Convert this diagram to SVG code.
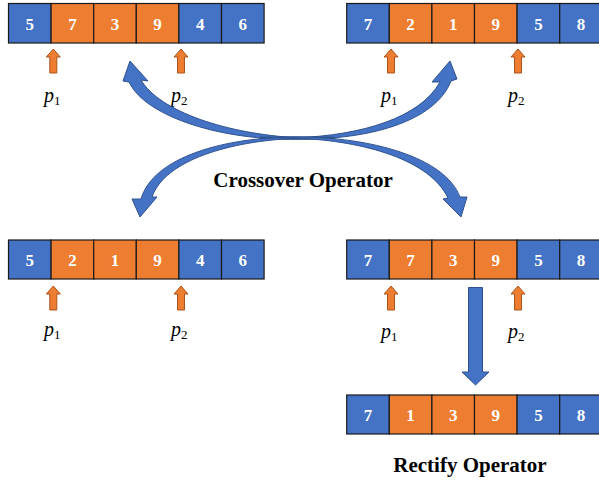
<svg xmlns="http://www.w3.org/2000/svg" width="599" height="480" viewBox="0 0 599 480">
<style>
.b{fill:#4472C4;stroke:#1a1a1a;stroke-width:1.2}
.o{fill:#ED7D31;stroke:#1a1a1a;stroke-width:1.2}
.n{font-family:"Liberation Serif",serif;font-weight:bold;font-size:17px;fill:#fff;text-anchor:middle}
.pa{fill:#ED7D31;stroke:#A9541C;stroke-width:1}
.p{font-family:"Liberation Serif",serif;font-style:italic;font-size:20px;fill:#000}
.s{font-size:13px;font-style:normal}
.big{fill:#4472C4;stroke:#2F528F;stroke-width:1}
.t{font-family:"Liberation Serif",serif;font-weight:bold;font-size:21px;fill:#000;text-anchor:middle}
</style>
<defs>
<path id="up" d="M0,0 L7,8 L3.5,8 L3.5,24 L-3.5,24 L-3.5,8 L-7,8 Z"/>
</defs>
<g id="parent1">
<rect class="b" x="8.5" y="3.5" width="42.6" height="39.5"/>
<rect class="o" x="51.1" y="3.5" width="42.6" height="39.5"/>
<rect class="o" x="93.7" y="3.5" width="42.6" height="39.5"/>
<rect class="o" x="136.3" y="3.5" width="42.6" height="39.5"/>
<rect class="b" x="178.9" y="3.5" width="42.6" height="39.5"/>
<rect class="b" x="221.5" y="3.5" width="42.6" height="39.5"/>
<text class="n" x="29.8" y="29.5">5</text>
<text class="n" x="72.4" y="29.5">7</text>
<text class="n" x="115" y="29.5">3</text>
<text class="n" x="157.6" y="29.5">9</text>
<text class="n" x="200.2" y="29.5">4</text>
<text class="n" x="242.8" y="29.5">6</text>
<use href="#up" class="pa" x="53.3" y="49"/>
<use href="#up" class="pa" x="181" y="49"/>
<text class="p" x="44" y="102">p<tspan class="s" dy="3">1</tspan></text>
<text class="p" x="171" y="102">p<tspan class="s" dy="3">2</tspan></text>
</g>
<g id="parent2">
<rect class="b" x="346.7" y="3.5" width="42.6" height="39.5"/>
<rect class="o" x="389.3" y="3.5" width="42.6" height="39.5"/>
<rect class="o" x="431.9" y="3.5" width="42.6" height="39.5"/>
<rect class="o" x="474.5" y="3.5" width="42.6" height="39.5"/>
<rect class="b" x="517.1" y="3.5" width="42.6" height="39.5"/>
<rect class="b" x="559.7" y="3.5" width="42.6" height="39.5"/>
<text class="n" x="368" y="29.5">7</text>
<text class="n" x="410.6" y="29.5">2</text>
<text class="n" x="453.2" y="29.5">1</text>
<text class="n" x="495.8" y="29.5">9</text>
<text class="n" x="538.4" y="29.5">5</text>
<text class="n" x="581" y="29.5">8</text>
<use href="#up" class="pa" x="391" y="49"/>
<use href="#up" class="pa" x="518" y="49"/>
<text class="p" x="381" y="102">p<tspan class="s" dy="3">1</tspan></text>
<text class="p" x="508" y="102">p<tspan class="s" dy="3">2</tspan></text>
</g>
<g id="child1">
<rect class="b" x="8.5" y="240" width="42.6" height="39"/>
<rect class="o" x="51.1" y="240" width="42.6" height="39"/>
<rect class="o" x="93.7" y="240" width="42.6" height="39"/>
<rect class="o" x="136.3" y="240" width="42.6" height="39"/>
<rect class="b" x="178.9" y="240" width="42.6" height="39"/>
<rect class="b" x="221.5" y="240" width="42.6" height="39"/>
<text class="n" x="29.8" y="265.5">5</text>
<text class="n" x="72.4" y="265.5">2</text>
<text class="n" x="115" y="265.5">1</text>
<text class="n" x="157.6" y="265.5">9</text>
<text class="n" x="200.2" y="265.5">4</text>
<text class="n" x="242.8" y="265.5">6</text>
<use href="#up" class="pa" x="53.3" y="286"/>
<use href="#up" class="pa" x="181" y="286"/>
<text class="p" x="44" y="336">p<tspan class="s" dy="3">1</tspan></text>
<text class="p" x="171" y="336">p<tspan class="s" dy="3">2</tspan></text>
</g>
<g id="child2">
<rect class="b" x="346.7" y="240" width="42.6" height="39"/>
<rect class="o" x="389.3" y="240" width="42.6" height="39"/>
<rect class="o" x="431.9" y="240" width="42.6" height="39"/>
<rect class="o" x="474.5" y="240" width="42.6" height="39"/>
<rect class="b" x="517.1" y="240" width="42.6" height="39"/>
<rect class="b" x="559.7" y="240" width="42.6" height="39"/>
<text class="n" x="368" y="265.5">7</text>
<text class="n" x="410.6" y="265.5">7</text>
<text class="n" x="453.2" y="265.5">3</text>
<text class="n" x="495.8" y="265.5">9</text>
<text class="n" x="538.4" y="265.5">5</text>
<text class="n" x="581" y="265.5">8</text>
<use href="#up" class="pa" x="391" y="286"/>
<use href="#up" class="pa" x="518" y="286"/>
<text class="p" x="381" y="338">p<tspan class="s" dy="3">1</tspan></text>
<text class="p" x="508" y="338">p<tspan class="s" dy="3">2</tspan></text>
</g>
<g id="rectified">
<rect class="b" x="346.7" y="395" width="42.6" height="39"/>
<rect class="o" x="389.3" y="395" width="42.6" height="39"/>
<rect class="o" x="431.9" y="395" width="42.6" height="39"/>
<rect class="o" x="474.5" y="395" width="42.6" height="39"/>
<rect class="b" x="517.1" y="395" width="42.6" height="39"/>
<rect class="b" x="559.7" y="395" width="42.6" height="39"/>
<text class="n" x="368" y="420.5">7</text>
<text class="n" x="410.6" y="420.5">1</text>
<text class="n" x="453.2" y="420.5">3</text>
<text class="n" x="495.8" y="420.5">9</text>
<text class="n" x="538.4" y="420.5">5</text>
<text class="n" x="581" y="420.5">8</text>
</g>
<g id="connectors">
<path class="big" d="M335,138.4 C320,138.1 305,137.9 297,137.7 C228,134 160,112 141,80 L148,81 L130,61 L123,81 L129,82 C146,118 226,141 297,139 C305,139 320,138.8 335,138.6 Z"/>
<path class="big" d="M260,138.6 C275,138.3 290,138.1 297,137.8 C362,135 420,118 440,82 L432,82 L450,61 L457,79 L451,81 C435,122 368,140 297,139.2 C290,139.2 275,139 260,138.8 Z"/>
<path class="big" d="M335,137.4 C320,137.6 305,137.9 297,138.2 C230,141 165,160 152,197 L157,197 L140,217 L132,199 L141,199 C153,157 225,137 297,136.9 C305,136.9 320,137 335,137.2 Z"/>
<path class="big" d="M260,137.4 C275,137.6 290,137.9 297,138.2 C365,141 430,160 448,198 L443,199 L461,217 L467,197 L460,197 C445,157 370,137 297,136.9 C290,136.9 275,137 260,137.2 Z"/>
<path class="big" d="M468.5,287.5 L482.5,287.5 L482.5,372 L489,372 L475.5,385 L462,372 L468.5,372 Z"/>
</g>
<text class="t" x="303" y="187">Crossover Operator</text>
<text class="t" x="470" y="472">Rectify Operator</text>
</svg>
